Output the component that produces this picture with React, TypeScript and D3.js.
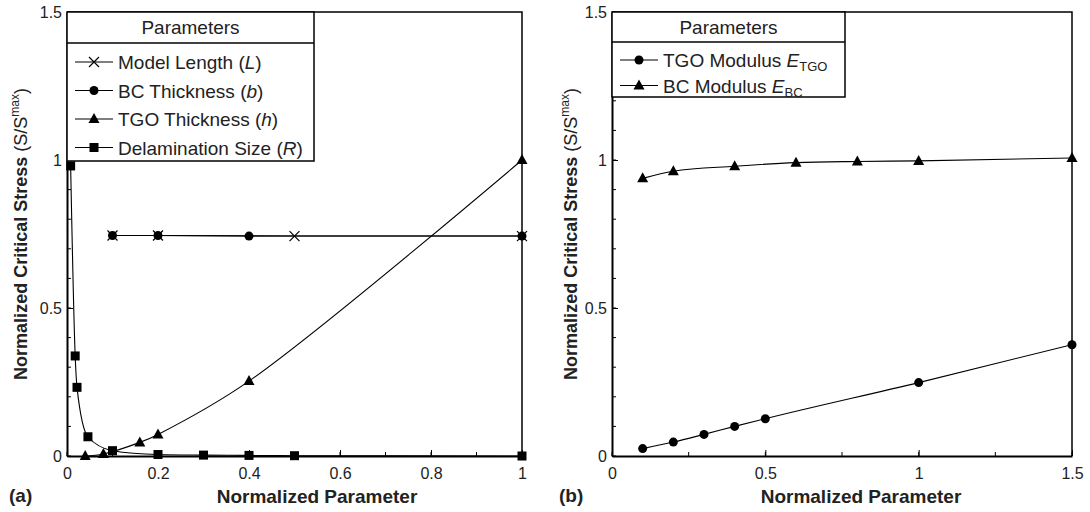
import React, { useEffect, useRef } from "react";
import * as d3 from "d3";

// panel (a)
const modelLengthX = [0.1, 0.2, 0.5, 1.0];
const modelLengthY = [0.745, 0.745, 0.743, 0.743];
const bcThickX = [0.1, 0.2, 0.4, 1.0];
const bcThickY = [0.745, 0.745, 0.743, 0.743];
const tgoThickX = [0.04, 0.08, 0.16, 0.2, 0.4, 1.0];
const tgoThickY = [0.0, 0.007, 0.046, 0.073, 0.253, 1.0];
const delamX = [0.008, 0.018, 0.022, 0.046, 0.1, 0.2, 0.3, 0.4, 0.5, 1.0];
const delamY = [0.98, 0.338, 0.232, 0.065, 0.018, 0.005, 0.003, 0.002, 0.001, 0.0];

// panel (b)
const tgoModX = [0.1, 0.2, 0.3, 0.4, 0.5, 1.0, 1.5];
const tgoModY = [0.025, 0.047, 0.073, 0.1, 0.126, 0.248, 0.376];
const bcModX = [0.1, 0.2, 0.4, 0.6, 0.8, 1.0, 1.5];
const bcModY = [0.938, 0.962, 0.979, 0.991, 0.995, 0.997, 1.007];

const yMajor = [0, 0.5, 1, 1.5];
const xMajorA = [0, 0.2, 0.4, 0.6, 0.8, 1];
const xMajorB = [0, 0.5, 1, 1.5];

const FONT = "'Liberation Sans', Arial, sans-serif";

type Series = { name: string; xs: number[]; ys: number[]; marker: string; curve: any; label: [string, string, string] };

function drawMarker(g: any, type: string, cx: number, cy: number) {
  if (type === "circle") {
    g.append("circle").attr("cx", cx).attr("cy", cy).attr("r", 4.5).attr("fill", "#000");
  } else if (type === "square") {
    g.append("rect").attr("x", cx - 4.5).attr("y", cy - 4.5).attr("width", 9).attr("height", 9).attr("fill", "#000");
  } else if (type === "triangle") {
    g.append("path").attr("d", `M${cx},${cy - 6}L${cx + 5.5},${cy + 4}L${cx - 5.5},${cy + 4}Z`).attr("fill", "#000");
  } else if (type === "x") {
    g.append("path")
      .attr("d", `M${cx - 5},${cy - 5}L${cx + 5},${cy + 5}M${cx - 5},${cy + 5}L${cx + 5},${cy - 5}`)
      .attr("stroke", "#000").attr("stroke-width", 1.2).attr("fill", "none");
  }
}

function drawPanel(svg: any, o: any) {
  const x = d3.scaleLinear().domain([0, o.xMax]).range([o.left, o.right]);
  const y = d3.scaleLinear().domain([0, 1.5]).range([o.bottom, o.top]);
  const g = svg.append("g");

  // frame top/right
  g.append("path")
    .attr("d", `M${o.left},${o.top}H${o.right}V${o.bottom}`)
    .attr("stroke", "#000").attr("stroke-width", 1.5).attr("fill", "none");

  // minor ticks
  d3.range(0, o.xMax + 1e-9, o.xMinor).forEach((v) => {
    g.append("line").attr("x1", x(v)).attr("x2", x(v)).attr("y1", o.bottom).attr("y2", o.bottom - 4)
      .attr("stroke", "#000").attr("stroke-width", 1);
  });
  d3.range(0, 1.5 + 1e-9, 0.1).forEach((v) => {
    g.append("line").attr("y1", y(v)).attr("y2", y(v)).attr("x1", o.left).attr("x2", o.left + 4)
      .attr("stroke", "#000").attr("stroke-width", 1);
  });

  const xAxis = g.append("g").attr("transform", `translate(0,${o.bottom})`)
    .call(d3.axisBottom(x).tickValues(o.xMajor).tickSizeInner(-6).tickSizeOuter(0).tickPadding(12).tickFormat(d3.format("")));
  const yAxis = g.append("g").attr("transform", `translate(${o.left},0)`)
    .call(d3.axisLeft(y).tickValues(yMajor).tickSizeInner(-6).tickSizeOuter(0).tickPadding(5).tickFormat(d3.format("")));
  [xAxis, yAxis].forEach((a) => {
    a.select(".domain").attr("stroke-width", 2);
    a.selectAll("text").attr("font-family", FONT).attr("font-size", 16).attr("fill", "#222");
  });

  // series
  o.series.forEach((s: Series) => {
    const pts = s.xs.map((v, i) => [x(v), y(s.ys[i])] as [number, number]);
    const line = d3.line().curve(s.curve);
    g.append("path").attr("d", line(pts)).attr("stroke", "#000").attr("stroke-width", 1.1).attr("fill", "none");
    pts.forEach((p) => drawMarker(g, s.marker, p[0], p[1]));
  });

  // legend
  const lg = g.append("g");
  lg.append("rect").attr("x", o.left).attr("y", o.top).attr("width", o.legRight - o.left).attr("height", o.legBottom - o.top)
    .attr("fill", "#fff").attr("stroke", "#000").attr("stroke-width", 1.5);
  lg.append("line").attr("x1", o.left).attr("x2", o.legRight).attr("y1", o.legHead).attr("y2", o.legHead)
    .attr("stroke", "#000").attr("stroke-width", 1.5);
  lg.append("text").attr("x", (o.left + o.legRight) / 2).attr("y", (o.top + o.legHead) / 2 + 6.5)
    .attr("text-anchor", "middle").attr("font-family", FONT).attr("font-size", 19).attr("fill", "#222").text("Parameters");
  o.series.forEach((s: Series, i: number) => {
    const ry = o.legRow0 + i * o.legStep;
    lg.append("line").attr("x1", o.left + 8).attr("x2", o.left + 46).attr("y1", ry).attr("y2", ry)
      .attr("stroke", "#000").attr("stroke-width", 1.1);
    drawMarker(lg, s.marker, o.left + 27, ry);
    const t = lg.append("text").attr("x", o.left + 51).attr("y", ry + 7)
      .attr("font-family", FONT).attr("font-size", 19).attr("fill", "#222");
    t.append("tspan").text(s.label[0]);
    t.append("tspan").attr("font-style", "italic").text(s.label[1]);
    if (o.subscript) {
      t.append("tspan").attr("font-size", 13).attr("dy", 4).text(s.label[2]);
    } else {
      t.append("tspan").text(s.label[2]);
    }
  });

  // axis titles
  g.append("text").attr("x", o.xTitleX).attr("y", 503).attr("text-anchor", "middle")
    .attr("font-family", FONT).attr("font-size", 19).attr("font-weight", "bold").attr("fill", "#222")
    .text("Normalized Parameter");
  const yt = g.append("text").attr("transform", `translate(${o.yTitleX},${(o.top + o.bottom) / 2}) rotate(-90)`)
    .attr("text-anchor", "middle").attr("font-family", FONT).attr("font-size", 18).attr("fill", "#222");
  yt.append("tspan").attr("font-weight", "bold").text("Normalized Critical Stress ");
  yt.append("tspan").text("(S/S");
  yt.append("tspan").attr("font-size", 12).attr("dy", -8).text("max");
  yt.append("tspan").attr("dy", 8).text(")");

  g.append("text").attr("x", o.tagX).attr("y", 502).attr("font-family", FONT).attr("font-size", 19)
    .attr("font-weight", "bold").attr("fill", "#222").text(o.tag);
}

export default function App() {
  const ref = useRef<SVGSVGElement>(null);
  useEffect(() => {
    const svg = d3.select(ref.current);
    svg.selectAll("*").remove();

    drawPanel(svg, {
      left: 67, right: 522, top: 12, bottom: 456, xMax: 1, xMinor: 0.1, xMajor: xMajorA,
      legRight: 314, legHead: 43, legBottom: 161, legRow0: 62, legStep: 28.5,
      xTitleX: 317, yTitleX: 27, tagX: 9, tag: "(a)", subscript: false,
      series: [
        { name: "L", xs: modelLengthX, ys: modelLengthY, marker: "x", curve: d3.curveLinear, label: ["Model Length (", "L", ")"] },
        { name: "b", xs: bcThickX, ys: bcThickY, marker: "circle", curve: d3.curveLinear, label: ["BC Thickness (", "b", ")"] },
        { name: "h", xs: tgoThickX, ys: tgoThickY, marker: "triangle", curve: d3.curveCatmullRom.alpha(0.5), label: ["TGO Thickness (", "h", ")"] },
        { name: "R", xs: delamX, ys: delamY, marker: "square", curve: d3.curveMonotoneX, label: ["Delamination Size (", "R", ")"] },
      ],
    });

    drawPanel(svg, {
      left: 612, right: 1072, top: 12, bottom: 456, xMax: 1.5, xMinor: 0.25, xMajor: xMajorB,
      legRight: 845, legHead: 42, legBottom: 97, legRow0: 60, legStep: 25.5,
      xTitleX: 861, yTitleX: 577, tagX: 559, tag: "(b)", subscript: true,
      series: [
        { name: "Etgo", xs: tgoModX, ys: tgoModY, marker: "circle", curve: d3.curveMonotoneX, label: ["TGO Modulus ", "E", "TGO"] },
        { name: "Ebc", xs: bcModX, ys: bcModY, marker: "triangle", curve: d3.curveMonotoneX, label: ["BC Modulus ", "E", "BC"] },
      ],
    });
  }, []);

  return (
    <svg ref={ref} width={1090} height={512} style={{ position: "absolute", left: 0, top: 0, background: "#fff" }} />
  );
}
